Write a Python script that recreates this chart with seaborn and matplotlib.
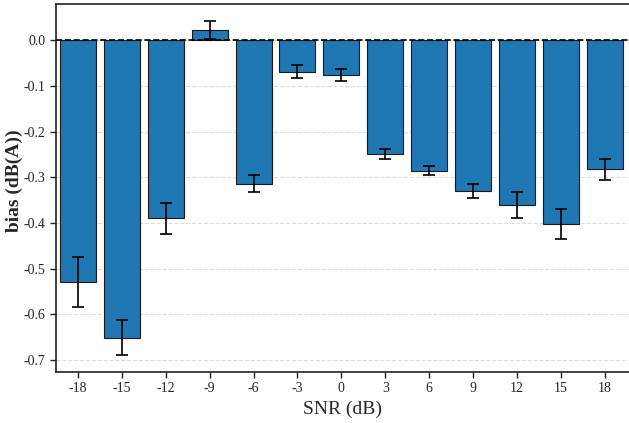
import matplotlib
matplotlib.use("Agg")
import matplotlib.pyplot as plt
import seaborn as sns
import pandas as pd
import numpy as np

snr = ["-18", "-15", "-12", "-9", "-6", "-3", "0", "3", "6", "9", "12", "15", "18"]
bias = [-0.529, -0.651, -0.390, 0.022, -0.314, -0.069, -0.076, -0.249, -0.286, -0.330, -0.361, -0.403, -0.283]
err = [0.054, 0.038, 0.034, 0.020, 0.018, 0.014, 0.013, 0.011, 0.010, 0.016, 0.028, 0.033, 0.023]
yticks = [-0.7, -0.6, -0.5, -0.4, -0.3, -0.2, -0.1, 0.0]

sns.set_style("white")
plt.rcParams['font.family'] = ['Liberation Serif', 'DejaVu Serif']

df = pd.DataFrame({"snr": snr, "bias": bias})

fig = plt.figure(figsize=(6.29, 4.23), dpi=100)
ax = fig.add_axes([0.089, 0.121, 0.911, 0.8695])
ax.set_axisbelow(True)
ax.yaxis.grid(True, linestyle="--", color="#dddddd", linewidth=0.8)

sns.barplot(data=df, x="snr", y="bias", order=snr, color="#1f77b4", saturation=1,
            edgecolor="#1a1a1a", linewidth=0.8, errorbar=None, width=0.82, ax=ax)
xs = [p.get_x() + p.get_width() / 2 for p in ax.patches]
ax.errorbar(xs, bias, yerr=err, fmt="none", ecolor="black", elinewidth=1.2, capsize=4, capthick=1.2)
ax.axhline(0, color="black", linestyle="--", linewidth=1.2, zorder=5)

ax.set_xlim(-0.5, 12.55)
ax.set_ylim(-0.7256, 0.079)
ax.set_yticks(yticks)
ax.set_yticklabels([f"{v:.1f}" for v in yticks])
for s in ["left", "bottom", "top"]:
    ax.spines[s].set_color("#222222")
    ax.spines[s].set_linewidth(1.2)
ax.spines["right"].set_visible(False)
ax.tick_params(axis="both", which="both", length=4, width=1, color="#222222", labelsize=10,
               left=True, bottom=True)
ax.set_xlabel("SNR (dB)", fontsize=14)
ax.set_ylabel("bias (dB(A))", fontsize=14, fontweight="bold")
ax.yaxis.set_label_coords(-0.058, 0.52)

fig.savefig("out.png", dpi=100)
